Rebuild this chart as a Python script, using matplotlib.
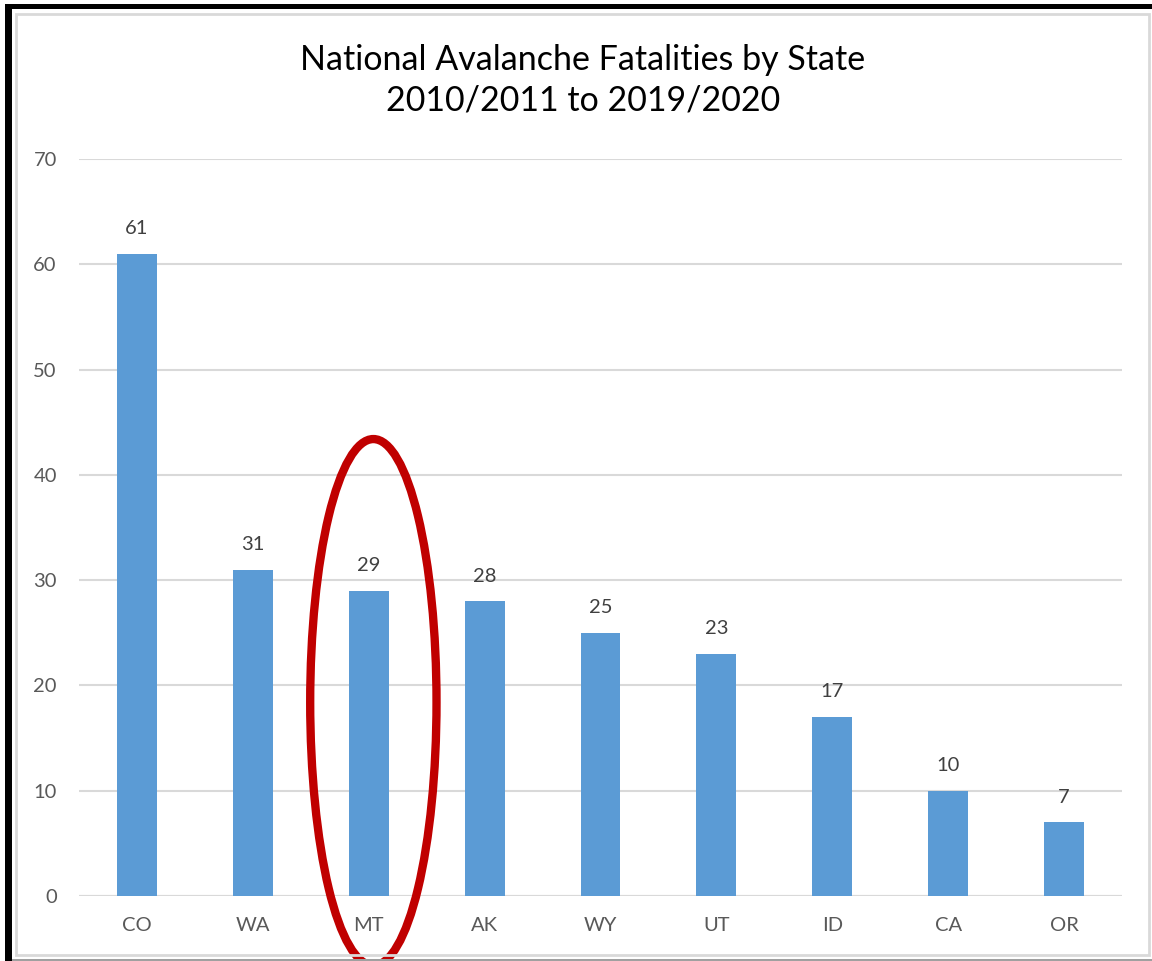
import matplotlib
matplotlib.use("Agg")
import matplotlib.pyplot as plt
from matplotlib.patches import Ellipse, Rectangle
import numpy as np

# data
states = ["CO", "WA", "MT", "AK", "WY", "UT", "ID", "CA", "OR"]
fatalities = [61, 31, 29, 28, 25, 23, 17, 10, 7]
y_ticks = [0, 10, 20, 30, 40, 50, 60, 70]
title_lines = ["National Avalanche Fatalities by State", "2010/2011 to 2019/2020"]
highlight = "MT"

W, H = 1152, 961
plt.rcParams["font.family"] = ["Lato", "DejaVu Sans"]

fig = plt.figure(figsize=(W / 100, H / 100), dpi=100)


def fx(x):
    return x / W


def fy(y):
    return 1 - y / H


ax = fig.add_axes([fx(79), fy(896), fx(1122) - fx(79), fy(159) - fy(896)])

x = np.arange(len(states))
bars = ax.bar(x, fatalities, width=0.345, color="#5B9BD5", zorder=3)

for xi, v in zip(x, fatalities):
    ax.annotate(str(v), (xi, v), xytext=(0, 12), textcoords="offset points",
                ha="center", va="bottom", fontsize=14.5, color="#404040")

ax.set_xlim(-0.5, len(states) - 0.5)
ax.set_ylim(0, 70)
ax.set_yticks(y_ticks)
ax.set_xticks(x)
ax.set_xticklabels(states)
ax.tick_params(axis="both", length=0, labelsize=14.5, labelcolor="#595959")
ax.tick_params(axis="y", pad=16)
ax.tick_params(axis="x", pad=15)
ax.yaxis.grid(True, color="#D9D9D9", linewidth=1.5, zorder=0)
for s in ax.spines.values():
    s.set_visible(False)
ax.axhline(0, color="#D9D9D9", linewidth=1.5, zorder=2)

# chart frame and black screenshot borders
fig.add_artist(Rectangle((fx(16), fy(955)), fx(1149) - fx(16), fy(14) - fy(955),
                         transform=fig.transFigure, fill=False,
                         edgecolor="#D9D9D9", linewidth=2))
fig.add_artist(Rectangle((fx(5), 0), 1 - fx(5), fy(959),
                         transform=fig.transFigure, color="#A0A0A0", linewidth=0))

# red highlight ellipse round the MT bar
hi = states.index(highlight)
ax.add_patch(Ellipse((hi + 0.04, 18.4), 1.09, 50.0, fill=False,
                     edgecolor="#C00000", linewidth=6, zorder=10, clip_on=False))

fig.add_artist(Rectangle((fx(5), 0), fx(12) - fx(5), fy(4),
                         transform=fig.transFigure, color="black", linewidth=0))
fig.add_artist(Rectangle((fx(5), fy(9)), 1 - fx(5), fy(4) - fy(9),
                         transform=fig.transFigure, color="black", linewidth=0))

# title
fig.text(fx(583), fy(60), title_lines[0], ha="center", va="center",
         fontsize=24.5, color="black")
fig.text(fx(583), fy(101), title_lines[1], ha="center", va="center",
         fontsize=24.5, color="black")

fig.savefig("out.png", dpi=100)
